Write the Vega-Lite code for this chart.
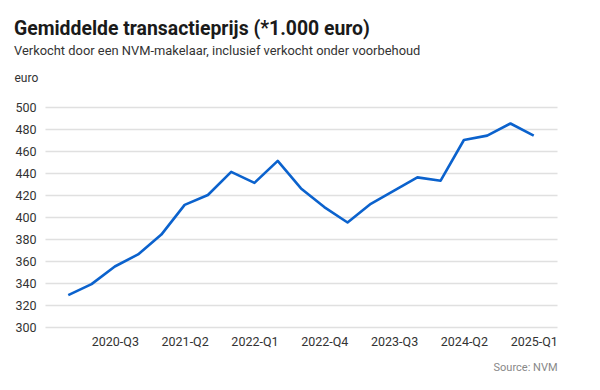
{
  "$schema": "https://vega.github.io/schema/vega-lite/v6.json",
  "width": 512,
  "height": 220,
  "autosize": {"type": "none"},
  "padding": {"left": 45, "top": 107, "right": 43, "bottom": 63},
  "background": "white",
  "title": {
    "text": "Gemiddelde transactieprijs (*1.000 euro)",
    "subtitle": "Verkocht door een NVM-makelaar, inclusief verkocht onder voorbehoud",
    "anchor": "start",
    "frame": "group",
    "dx": -31,
    "font": "Roboto",
    "fontSize": 19.4,
    "fontWeight": "bold",
    "color": "#1a1a1a",
    "subtitleFont": "Roboto",
    "subtitleFontSize": 12.9,
    "subtitleColor": "#333333",
    "subtitlePadding": 6,
    "offset": 12
  },
  "data": {
    "values": [
      {"kwartaal": "2020-Q1", "prijs": 329},
      {"kwartaal": "2020-Q2", "prijs": 339},
      {"kwartaal": "2020-Q3", "prijs": 355},
      {"kwartaal": "2020-Q4", "prijs": 366},
      {"kwartaal": "2021-Q1", "prijs": 384},
      {"kwartaal": "2021-Q2", "prijs": 411},
      {"kwartaal": "2021-Q3", "prijs": 420},
      {"kwartaal": "2021-Q4", "prijs": 441},
      {"kwartaal": "2022-Q1", "prijs": 431},
      {"kwartaal": "2022-Q2", "prijs": 451},
      {"kwartaal": "2022-Q3", "prijs": 426},
      {"kwartaal": "2022-Q4", "prijs": 409},
      {"kwartaal": "2023-Q1", "prijs": 395},
      {"kwartaal": "2023-Q2", "prijs": 412},
      {"kwartaal": "2023-Q3", "prijs": 424},
      {"kwartaal": "2023-Q4", "prijs": 436},
      {"kwartaal": "2024-Q1", "prijs": 433},
      {"kwartaal": "2024-Q2", "prijs": 470},
      {"kwartaal": "2024-Q3", "prijs": 474},
      {"kwartaal": "2024-Q4", "prijs": 485},
      {"kwartaal": "2025-Q1", "prijs": 474}
    ]
  },
  "mark": {"type": "line", "color": "#0b62cd", "strokeWidth": 2.6, "strokeJoin": "round"},
  "encoding": {
    "x": {
      "field": "kwartaal",
      "type": "ordinal",
      "sort": null,
      "scale": {"type": "point", "padding": 1.08},
      "axis": {
        "values": ["2020-Q3", "2021-Q2", "2022-Q1", "2022-Q4", "2023-Q3", "2024-Q2", "2025-Q1"],
        "labelAngle": 0,
        "labelFont": "Roboto",
        "labelFontSize": 12.5,
        "labelColor": "#333333",
        "labelPadding": 8,
        "ticks": false,
        "domain": false,
        "grid": false,
        "title": "Source: NVM",
        "titleFont": "Roboto",
        "titleFontSize": 11,
        "titleFontWeight": "normal",
        "titleColor": "#888888",
        "titleAlign": "right",
        "titleAnchor": "end",
        "titleBaseline": "alphabetic",
        "titleX": 512,
        "titleY": 43
      }
    },
    "y": {
      "field": "prijs",
      "type": "quantitative",
      "scale": {"domain": [300, 500], "nice": false, "zero": false},
      "axis": {
        "values": [300, 320, 340, 360, 380, 400, 420, 440, 460, 480, 500],
        "labelFont": "Roboto",
        "labelFontSize": 12.5,
        "labelColor": "#333333",
        "labelPadding": 9,
        "ticks": false,
        "domain": false,
        "grid": true,
        "gridColor": "#e0e0e0",
        "gridWidth": 1.5,
        "title": "euro",
        "titleFont": "Roboto",
        "titleFontSize": 12,
        "titleFontWeight": "normal",
        "titleColor": "#333333",
        "titleAngle": 0,
        "titleAlign": "left",
        "titleBaseline": "alphabetic",
        "titleX": -31,
        "titleY": -26
      }
    }
  },
  "config": {"view": {"stroke": null}}
}
